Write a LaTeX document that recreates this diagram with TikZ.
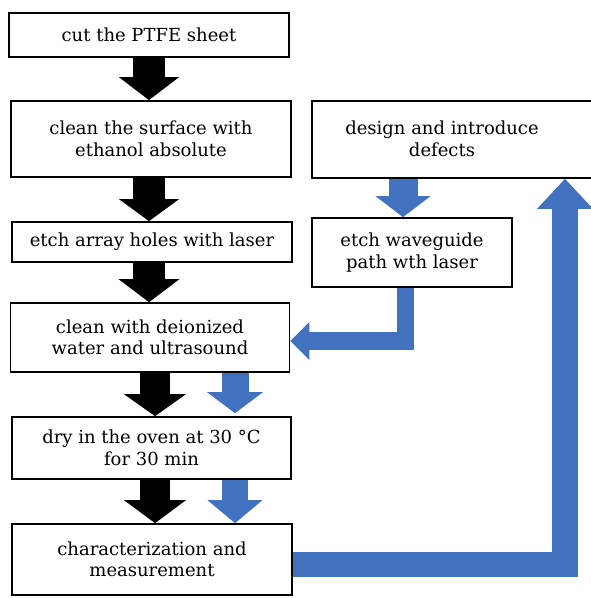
\documentclass[tikz,border=0pt]{standalone}
\usepackage{fontspec}
\setmainfont{DejaVu Serif}
\usetikzlibrary{arrows.meta,backgrounds}
\definecolor{flowblue}{RGB}{66,113,192}
\begin{document}
\begin{tikzpicture}[x=1pt,y=-1pt,
  stepbox/.style={draw=black,line width=1.7pt,fill=white,align=center,inner sep=0pt,
    font=\fontsize{18}{21.5}\selectfont},
  steptext/.style={align=center,inner sep=0pt,font=\fontsize{18}{21.5}\selectfont},
  blockarrow/.style n args={4}{draw=#1,line width=#2,line cap=butt,line join=miter,
    -{Triangle[width=#3,length=#4,line width=0pt]}}
]
\useasboundingbox (0,0) rectangle (590,598);

% left column
\node[stepbox,minimum width=280pt,minimum height=44pt] (b1) at (149,35) {cut the PTFE sheet};
\node[stepbox,minimum width=280pt,minimum height=76pt] (b2) at (151,139) {clean the surface with\\ethanol absolute};
\node[stepbox,minimum width=280pt,minimum height=40pt] (b3) at (152,242) {etch array holes with laser};
\node[stepbox,minimum width=279pt,minimum height=69pt] (b4) at (150,337.5) {clean with deionized\\water and ultrasound};
\node[stepbox,minimum width=279pt,minimum height=62pt] (b5) at (151.5,448) {dry in the oven at 30 °C\\for 30 min};
\node[stepbox,minimum width=280pt,minimum height=71pt] (b6) at (152,559.5) {characterization and\\measurement};

% right column
\node[stepbox,minimum width=288pt,minimum height=77pt] (dz) at (456,139.5) {};
\node[steptext] (dzt) at (442,139) {design and introduce\\defects};
\node[stepbox,minimum width=200pt,minimum height=69pt] (wg) at (412,252.5) {etch waveguide\\path wth laser};

% arrow axes
\coordinate (cA) at (149,0);
\coordinate (cB) at (155,0);
\coordinate (cC) at (235,0);
\coordinate (cD) at (403,0);
\coordinate (cE) at (405.5,0);
\coordinate (cF) at (565,0);
\coordinate (ey) at (0,341);
\coordinate (ry) at (0,564.5);

\begin{scope}[on background layer]
  % black arrows
  \draw[blockarrow={black}{32pt}{60pt}{23pt}] (b1.south -| cA) -- (b2.north -| cA);
  \draw[blockarrow={black}{32pt}{60pt}{22pt}] (b2.south -| cA) -- (b3.north -| cA);
  \draw[blockarrow={black}{32pt}{61pt}{23pt}] (b3.south -| cA) -- (b4.north -| cA);
  \draw[blockarrow={black}{30pt}{62pt}{22pt}] (b4.south -| cB) -- (b5.north -| cB);
  \draw[blockarrow={black}{30pt}{62pt}{23pt}] (b5.south -| cB) -- (b6.north -| cB);
  % blue arrows
  \draw[blockarrow={flowblue}{27pt}{56pt}{21pt},shorten >=3pt] (b4.south -| cC) -- (b5.north -| cC);
  \draw[blockarrow={flowblue}{26pt}{55pt}{23pt}] (b5.south -| cC) -- (b6.north -| cC);
  \draw[blockarrow={flowblue}{29pt}{55pt}{21pt}] (dz.south -| cD) -- (wg.north -| cD);
  \draw[blockarrow={flowblue}{17.5pt}{38pt}{19pt}] (wg.south -| cE) |- (b4.east |- ey);
  \draw[blockarrow={flowblue}{25.5pt}{56pt}{30pt}] (b6.east |- ry) -| (dz.south -| cF);
\end{scope}
\end{tikzpicture}
\end{document}
